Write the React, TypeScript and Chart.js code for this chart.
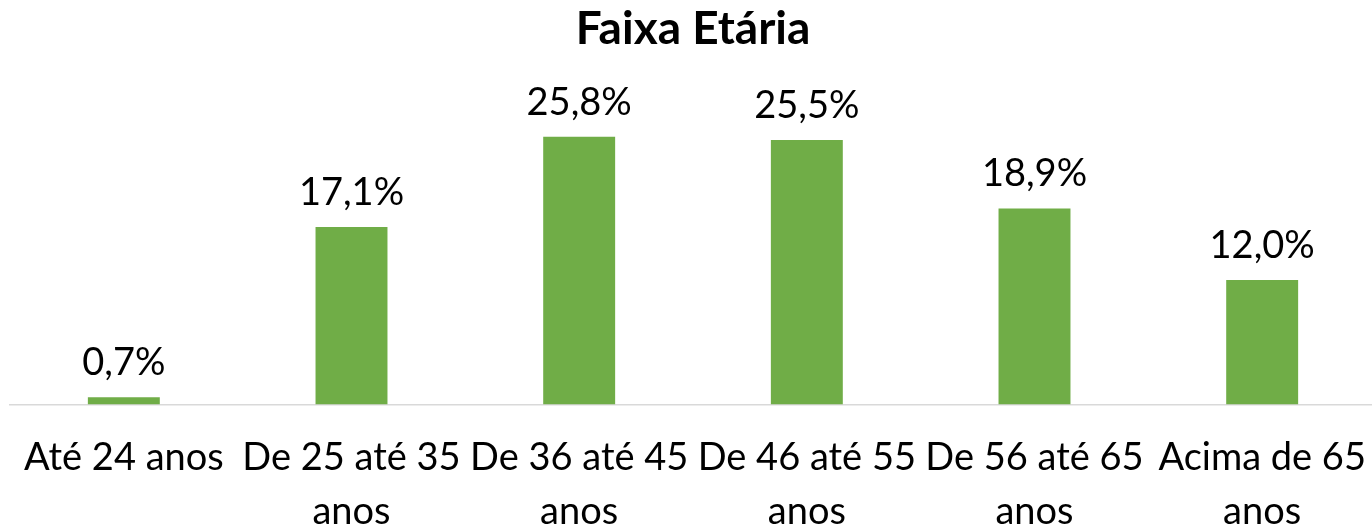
import React, { useEffect, useRef } from "react";
import { Chart, registerables } from "chart.js";

Chart.register(...registerables);

const title = "Faixa Etária";
const categories: string[][] = [
  ["Até 24 anos"],
  ["De 25 até 35", "anos"],
  ["De 36 até 45", "anos"],
  ["De 46 até 55", "anos"],
  ["De 56 até 65", "anos"],
  ["Acima de 65", "anos"],
];
const values: number[] = [0.7, 17.1, 25.8, 25.5, 18.9, 12.0];
const valueLabels: string[] = ["0,7%", "17,1%", "25,8%", "25,5%", "18,9%", "12,0%"];

const FONT = "Lato, 'Open Sans', sans-serif";

const labelPlugin = {
  id: "valueLabels",
  afterDatasetsDraw(chart: any) {
    const ctx = chart.ctx;
    const meta = chart.getDatasetMeta(0);
    ctx.save();
    ctx.font = `38px ${FONT}`;
    ctx.fillStyle = "#000000";
    ctx.textAlign = "center";
    ctx.textBaseline = "alphabetic";
    meta.data.forEach((bar: any, i: number) => {
      ctx.fillText(valueLabels[i], bar.x, bar.y - 22);
    });
    ctx.restore();
  },
};

export default function App() {
  const ref = useRef<HTMLCanvasElement | null>(null);
  useEffect(() => {
    document.body.style.margin = "0";
    document.body.style.overflow = "hidden";
    const chart = new Chart(ref.current as HTMLCanvasElement, {
      type: "bar",
      data: {
        labels: categories,
        datasets: [
          {
            data: values,
            backgroundColor: "#70AD47",
            borderWidth: 0,
            categoryPercentage: 1,
            barPercentage: 0.316,
          },
        ],
      },
      options: {
        animation: false,
        responsive: false,
        maintainAspectRatio: false,
        layout: { padding: { left: 10, right: 0, top: 0, bottom: 0 } },
        plugins: {
          legend: { display: false },
          tooltip: { enabled: false },
          title: {
            display: true,
            text: title,
            color: "#000000",
            font: { family: FONT, size: 46, weight: "bold", lineHeight: 1.2 },
            padding: { top: 2, bottom: 36 },
          },
        },
        scales: {
          x: {
            grid: { display: false, drawTicks: false },
            border: { display: true, color: "#d9d9d9", width: 1.5 },
            ticks: {
              color: "#000000",
              font: { family: FONT, size: 38, lineHeight: 1.4 },
              padding: 27,
              maxRotation: 0,
              minRotation: 0,
              autoSkip: false,
            },
            afterFit: (scale: any) => {
              scale.paddingLeft = 0;
              scale.paddingRight = 0;
              scale.height = 123.5;
            },
          },
          y: {
            display: false,
            min: 0,
            max: 30,
          },
        },
      },
      plugins: [labelPlugin],
    });
    return () => chart.destroy();
  }, []);
  return (
    <div style={{ position: "fixed", left: 0, top: 0, width: 1376, height: 528 }}>
      <canvas ref={ref} width={1376} height={528} style={{ width: 1376, height: 528 }} />
    </div>
  );
}
